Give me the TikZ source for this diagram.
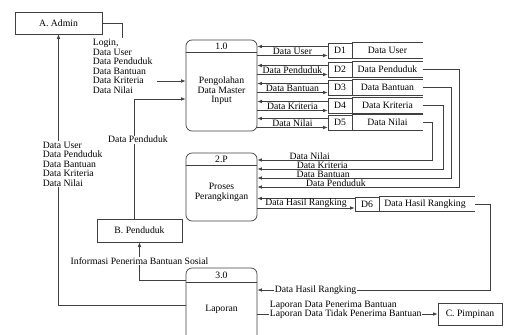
\documentclass[tikz,border=0pt]{standalone}
\usepackage{fontspec}
\setmainfont{Liberation Serif}
\usetikzlibrary{arrows.meta}
\newcommand{\dfdfont}{\fontsize{9.7}{9.5}\selectfont}
\tikzset{
    ent/.style={draw=black!75, minimum height=22pt, inner sep=1pt},
    proc/.style={draw=black!75, rounded corners=6pt, minimum width=71pt},
    storeid/.style={draw=black!75, minimum width=24pt, minimum height=15pt, inner sep=0pt},
    line/.style={draw=black!75},
    flow/.style={draw=black!75, -{Latex[length=4.5pt,width=3.5pt]}},
    lbl/.style={inner sep=0.5pt},
    cut/.style={lbl, fill=white}
}

\begin{document}
\begin{tikzpicture}[x=1pt,y=-1pt,font=\dfdfont,line width=0.7pt]
    \useasboundingbox (0,0) rectangle (513,334);
    \clip (0,0) rectangle (513,334);
    \node[ent, minimum width=87pt] (a) at (58.5,23) {A. Admin};
    \node[ent, minimum width=85pt, minimum height=23pt] (b) at (139.5,230.5) {B. Penduduk};
    \node[ent, minimum width=64pt] (c) at (470,314) {C. Pimpinan};
    \node[proc, minimum height=91pt] (p1) at (221.5,85.5) {};
    \node[proc, minimum height=68pt] (p2) at (221.5,187) {};
    \node[proc, minimum height=80pt] (p3) at (221.5,308) {};
    \draw[line] (p1.west |- 0,52) -- (p1.east |- 0,52);
    \draw[line] (p2.west |- 0,165) -- (p2.east |- 0,165);
    \draw[line] (p3.west |- 0,282) -- (p3.east |- 0,282);
    \node[lbl] (p1n) at (221.5,46) {1.0};
    \node[lbl] (p2n) at (221.5,159) {2.P};
    \node[lbl] (p3n) at (221.5,275.5) {3.0};
    \node[lbl, align=center] (p1t) at (221.5,91) {Pengolahan\\Data Master\\Input};
    \node[lbl, align=center] (p2t) at (221.5,192.5) {Proses\\Perangkingan};
    \node[lbl] (p3t) at (221.5,309) {Laporan};
    \foreach \i/\y/\nm in {1/50.5/Data User,2/69.5/Data Penduduk,3/87.5/Data Bantuan,4/105.5/Data Kriteria,5/122.5/Data Nilai}{
        \node[storeid] (d\i) at (340,\y) {D\i};
        \draw[line] (d\i.north east) -- ++(71,0) (d\i.south east) -- ++(71,0);
        \node[lbl] (s\i) at (387.5,\y) {\nm};
        \coordinate (e\i) at (423,\y);
        \draw[flow] (d\i.west |- 0,\y-4) -- (p1.east |- 0,\y-4);
        \draw[flow] (p1.east |- 0,\y+5) -- node[lbl, above] {\nm} (d\i.west |- 0,\y+5);
    }
    \draw[flow] (e2) -| (459,187) -- node[lbl, above, pos=.61] {Data Penduduk} (p2.east |- 0,187);
    \draw[flow] (e3) -| (451,178) -- node[lbl, above, pos=.66] {Data Bantuan} (p2.east |- 0,178);
    \draw[flow] (e4) -| (443,169) -- node[lbl, above, pos=.65] {Data Kriteria} (p2.east |- 0,169);
    \draw[flow] (e5) -| (432,160) -- node[lbl, above, pos=.70] {Data Nilai} (p2.east |- 0,160);
    \node[storeid, minimum height=14pt] (d6) at (367,204) {D6};
    \draw[line] (d6.north east) -- ++(96,0) (d6.south east) -- ++(96,0);
    \node[lbl] (s6) at (425,204) {Data Hasil Rangking};
    \coordinate (e6) at (475,204);
    \draw[flow] (d6.west |- 0,198.5) -- (p2.east |- 0,198.5);
    \draw[flow] (p2.east |- 0,208) -- node[lbl, above] {Data Hasil Rangking} (d6.west |- 0,208);
    \draw[flow] (e6) -| (490,290) -- node[cut, pos=.75] {Data Hasil Rangking} (p3.east |- 0,290);
    \node[lbl, align=left, anchor=north west] (lg) at (92,38.5) {Login,\\Data User\\Data Penduduk\\Data Bantuan\\Data Kriteria\\Data Nilai};
    \draw[line] (a.east) -| (lg.north);
    \draw[flow, shorten <=4pt] (lg.east |- 0,81) -- (p1.west |- 0,81);
    \draw[flow] (b.north -| 134,0) |- node[cut, pos=.33, xshift=4pt] {Data Penduduk} (p1.west |- 0,99);
    \draw[flow] (p3.west |- 0,280) -| node[cut, pos=.75] {Informasi Penerima Bantuan Sosial} (b.south);
    \draw[flow] (p3.west |- 0,305) -| (a.south);
    \node[lbl, align=left, fill=white, anchor=north west] (lu) at (42,141) {Data User\\Data Penduduk\\Data Bantuan\\Data Kriteria\\Data Nilai};
    \draw[flow] (p3.east |- c.west) -- (c.west);
    \node[lbl, align=left, fill=white, anchor=south west] (lp) at (269,319.5) {Laporan Data Penerima Bantuan\\Laporan Data Tidak Penerima Bantuan};
\end{tikzpicture}
\end{document}
